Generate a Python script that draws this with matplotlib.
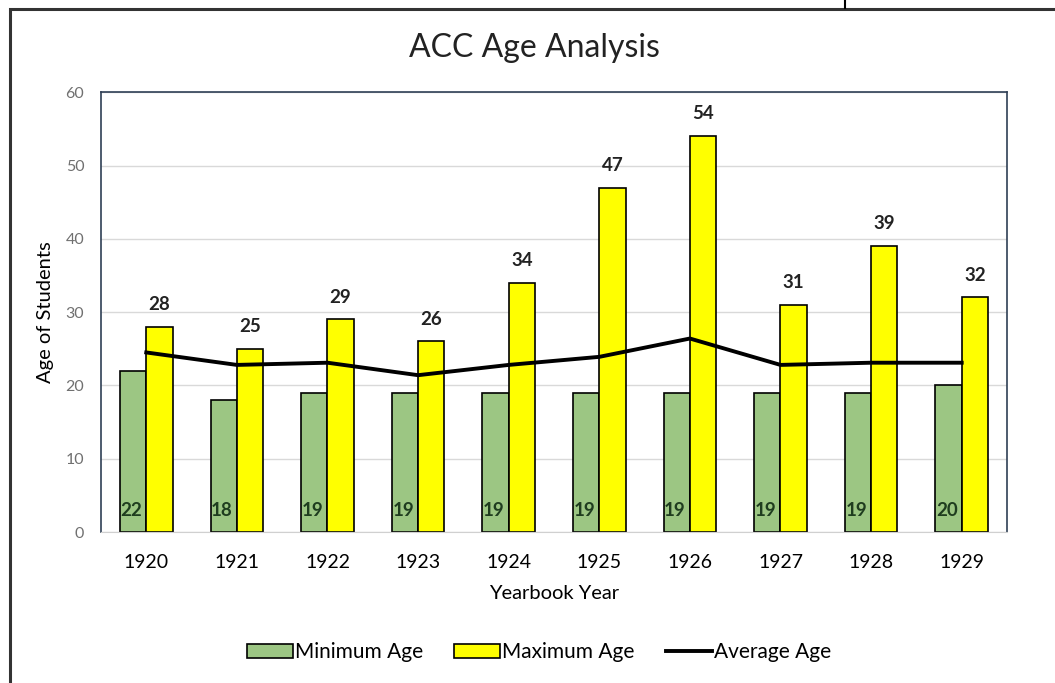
import matplotlib.pyplot as plt
from matplotlib.patches import Rectangle, Patch
from matplotlib.lines import Line2D
import numpy as np

# Data
years = ['1920', '1921', '1922', '1923', '1924', '1925', '1926', '1927', '1928', '1929']
min_age = [22, 18, 19, 19, 19, 19, 19, 19, 19, 20]
max_age = [28, 25, 29, 26, 34, 47, 54, 31, 39, 32]
avg_age = [24.5, 22.8, 23.1, 21.4, 22.8, 23.9, 26.4, 22.8, 23.1, 23.1]

plt.rcParams['font.family'] = ['Lato', 'DejaVu Sans']

fig = plt.figure(figsize=(10.55, 6.83), dpi=100)
ax = fig.add_axes([0.0957, 0.221, 0.8588, 0.644])

x = np.arange(len(years))
w = 0.29
green = '#9cc683'
ax.bar(x - w / 2, min_age, w, color=green, edgecolor='black', linewidth=1.2, zorder=2)
ax.bar(x + w / 2, max_age, w, color='#ffff00', edgecolor='black', linewidth=1.2, zorder=2)
ax.plot(x, avg_age, color='black', linewidth=2.8, zorder=3)

# Labels
for xi, v in zip(x, min_age):
    ax.text(xi - w / 2 - 0.02, 3, str(v), ha='center', va='center', fontsize=13.5,
            fontweight='bold', color='#1f3d1f', zorder=4)
for xi, v in zip(x, max_age):
    ax.text(xi + w / 2, v + 1.9, str(v), ha='center', va='bottom', fontsize=13.5,
            fontweight='bold', color='#222222', zorder=4)

ax.set_xlim(-0.5, 9.5)
ax.set_ylim(0, 60)
ax.set_yticks(range(0, 61, 10))
ax.set_xticks(x)
ax.set_xticklabels(years, fontsize=14)
ax.tick_params(axis='y', colors='#707070', labelsize=11.5, length=0, pad=12)
ax.tick_params(axis='x', length=0, pad=16)
ax.grid(axis='y', color='#d9d9d9', linewidth=1, zorder=0)
for s in ['left', 'top', 'right']:
    ax.spines[s].set_color('#2f3f55')
    ax.spines[s].set_linewidth(1.2)
ax.spines['bottom'].set_color('#d0d0d0')

ax.set_ylabel('Age of Students', fontsize=14.5, labelpad=8)
ax.set_xlabel('Yearbook Year', fontsize=14.5, labelpad=10)

fig.text(0.507, 0.93, 'ACC Age Analysis', ha='center', va='center', fontsize=23, color='#222222')

handles = [Patch(facecolor=green, edgecolor='black', linewidth=1.2, label='Minimum Age'),
           Patch(facecolor='#ffff00', edgecolor='black', linewidth=1.2, label='Maximum Age'),
           Line2D([0], [0], color='black', linewidth=2.8, label='Average Age')]
fig.legend(handles=handles, loc='center', bbox_to_anchor=(0.511, 0.045), ncol=3,
           frameon=False, fontsize=15, handlelength=2.2, handletextpad=0.1, columnspacing=1.5)

# Outer chart border
fig.patches.append(Rectangle((10 / 1055, -0.1), 1.2, 0.1 + (683 - 9) / 683,
                             transform=fig.transFigure, fill=False,
                             edgecolor='#333333', linewidth=2.2))
fig.add_artist(Line2D([845 / 1055, 845 / 1055], [1 - 8 / 683, 1.0],
                      transform=fig.transFigure, color='black', linewidth=1.5))

fig.savefig('out.png', dpi=100)
